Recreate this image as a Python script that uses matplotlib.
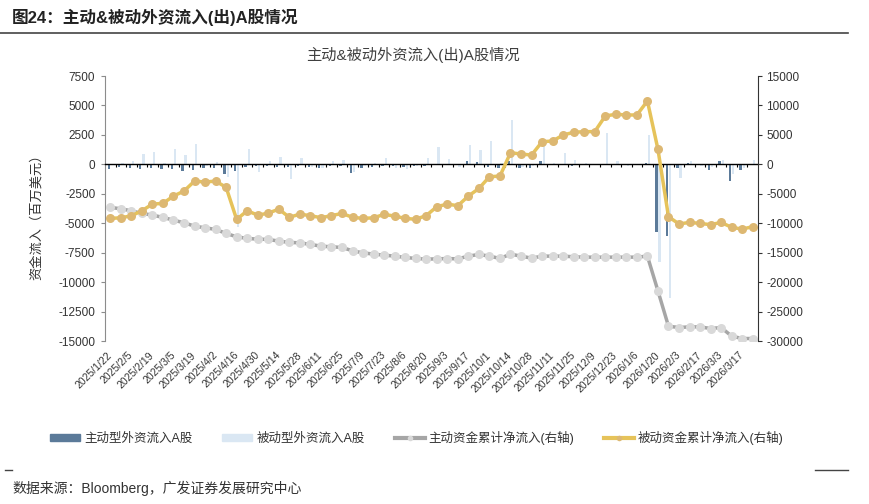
import numpy as np
import pandas as pd
import matplotlib
matplotlib.use('Agg')
import matplotlib.pyplot as plt
from matplotlib.lines import Line2D
from matplotlib.patches import Patch

plt.rcParams['font.family'] = ['Liberation Sans', 'Noto Sans CJK SC']
plt.rcParams['axes.unicode_minus'] = False

# weekly dates (category axis)
dates = (list(pd.date_range('2025-01-22', '2025-10-01', freq='7D'))
         + [pd.Timestamp('2025-10-09')]
         + list(pd.date_range('2025-10-14', '2026-03-24', freq='7D')))
date_labels = [f"{d.year}/{d.month}/{d.day}" for d in dates]

# weekly flows, million USD (left axis)
active_flow = [-420, -250, -300, -400, -300, -380, -420, -600, -500, -280,
               -270, -800, -550, -250, -180, -100, -240, -200, -100, -250,
               -280, -120, -120, -700, -320, -220, -180, -170, -220, -170,
               -130, 40, 40, -60, 250, 200, -250, -300, 300, -300,
               -300, 250, -30, -20, -100, -60, -20, -20, -20, -20,
               -20, 150, -5750, -6050, -350, 100, -20, -450, 250, -1420,
               -450, -30]
passive_flow = [60, 100, 300, 870, 1050, 150, 1300, 780, 1700, -170,
                200, -1100, -5350, 1300, -650, 320, 650, -1250, 500, -250,
                -320, 320, 380, -650, -180, 120, 500, -280, -380, -150,
                550, 1450, 480, -250, 1640, 1250, 1990, 150, 3750, -200,
                -170, 1600, 150, 1000, 350, 110, 30, 2630, 280, -100,
                30, 2450, -8300, -11350, -1200, 250, -150, -200, 350, -850,
                -300, 350]

# cumulative flows, million USD (right axis)
active_cum = [-7310, -7550, -7890, -8330, -8620, -9010, -9470, -9930, -10490, -10780,
              -11050, -11730, -12310, -12580, -12700, -12750, -13040, -13260, -13330, -13600,
              -13890, -14010, -14110, -14690, -15030, -15250, -15420, -15590, -15810, -15980,
              -16100, -16050, -16000, -16050, -15590, -15300, -15590, -15980, -15250, -15590,
              -15930, -15590, -15590, -15590, -15700, -15760, -15760, -15760, -15760, -15760,
              -15760, -15590, -21490, -27490, -27710, -27600, -27600, -27880, -27710, -29180,
              -29580, -29580]
passive_cum = [-9180, -9080, -8740, -7890, -6750, -6630, -5390, -4540, -2840, -3010,
               -2840, -3910, -9350, -7890, -8620, -8300, -7600, -9000, -8450, -8720,
               -9060, -8720, -8330, -9000, -9180, -9080, -8500, -8790, -9180, -9330,
               -8700, -7200, -6750, -7030, -5390, -4100, -2110, -1990, 1970, 1750,
               1580, 3840, 3960, 4980, 5440, 5550, 5550, 8210, 8500, 8380,
               8380, 10760, 2550, -8890, -10130, -9860, -10030, -10250, -9860, -10710,
               -10990, -10590]

dark_blue = '#5B7A99'
light_blue = '#DAE7F3'
gray_line = '#A6A6A6'
gray_mk = '#D9D9D9'
gold_line = '#E6C35A'
gold_mk = '#DDB872'

fig = plt.figure(figsize=(8.7, 5.04), dpi=100)
ax = fig.add_axes([105/870, 1 - 341/504, (758 - 105)/870, (341 - 76)/504])
ax2 = ax.twinx()

x = np.arange(len(date_labels))
ax.bar(x - 0.15, active_flow, width=0.22, color=dark_blue, zorder=2)
ax.bar(x + 0.15, passive_flow, width=0.22, color=light_blue, zorder=2)

ax2.plot(x, active_cum, color=gray_line, lw=2.5, marker='o', ms=6.5, mew=0,
         mfc=gray_mk)
ax2.plot(x, passive_cum, color=gold_line, lw=2.5, marker='o', ms=6.5, mew=0,
         mfc=gold_mk)

ax.set_xlim(-0.5, len(x) - 0.5)
ax.set_ylim(-15000, 7500)
ax.set_yticks(np.arange(-15000, 7501, 2500))
ax2.set_ylim(-30000, 15000)
ax2.set_yticks(np.arange(-30000, 15001, 5000))

# zero line as category axis with small ticks between categories
ax.spines['bottom'].set_position(('data', 0))
ax.spines['bottom'].set_color('black')
ax.spines['bottom'].set_linewidth(1.0)
ax.set_xticks(x[:-1] + 0.5)
ax.tick_params(axis='x', length=2.5, width=0.8, direction='out', labelbottom=False)
for s in ['top', 'right']:
    ax.spines[s].set_visible(False)
ax.spines['left'].set_color('#8C8C8C')
ax.tick_params(axis='y', length=3, width=0.8, color='#8C8C8C', pad=4,
               labelsize=8.5, labelcolor='#333333')

for s in ['top', 'bottom', 'left']:
    ax2.spines[s].set_visible(False)
ax2.spines['right'].set_color('#333333')
ax2.tick_params(axis='y', length=3, width=0.8, color='#333333', pad=3,
                labelsize=8.5, labelcolor='#333333')

# date labels at the bottom of the plot area
sec = ax.secondary_xaxis(0)
sec.set_xticks(x[::2], labels=date_labels[::2])
sec.tick_params(length=0, pad=9, labelsize=7.5, labelcolor='#333333')
sec.spines['bottom'].set_visible(False)
plt.setp(sec.get_xticklabels(), rotation=45, ha='right', va='center',
         rotation_mode='anchor')

ax.set_ylabel('资金流入（百万美元）', fontsize=9.5, color='#333333')
ax.yaxis.set_label_coords((43 - 105)/653, 0.48)

handles = [Patch(color=dark_blue), Patch(color=light_blue),
           Line2D([], [], color=gray_line, lw=3, marker='o', ms=4, mew=0, mfc=gray_mk),
           Line2D([], [], color=gold_line, lw=3, marker='o', ms=4, mew=0, mfc=gold_mk)]
labels = ['主动型外资流入A股', '被动型外资流入A股', '主动资金累计净流入(右轴)', '被动资金累计净流入(右轴)']
fig.legend(handles, labels, loc='center', bbox_to_anchor=(417/870, 1 - 438/504), ncol=4,
           frameon=False, fontsize=9, handlelength=2.4, handleheight=0.5,
           handletextpad=0.3, columnspacing=2.4, labelcolor='#333333')

fig.text(12/870, 1 - 17/504, '图24：主动&被动外资流入(出)A股情况', fontsize=12,
         fontweight='bold', ha='left', va='center', color='#222222')
fig.add_artist(Line2D([0, 848/870], [1 - 33/504] * 2, color='#444444', lw=1.2,
                      transform=fig.transFigure))
fig.text(413/870, 1 - 55/504, '主动&被动外资流入(出)A股情况', fontsize=11,
         ha='center', va='center', color='#404040')

fig.add_artist(Line2D([5/870, 12/870], [1 - 470/504] * 2, color='#444444', lw=1,
                      transform=fig.transFigure))
fig.add_artist(Line2D([815/870, 848/870], [1 - 470/504] * 2, color='#444444', lw=1,
                      transform=fig.transFigure))
fig.text(12/870, 1 - 488/504, '数据来源：Bloomberg，广发证券发展研究中心', fontsize=10,
         ha='left', va='center', color='#333333')

fig.savefig('out.png', dpi=100)
